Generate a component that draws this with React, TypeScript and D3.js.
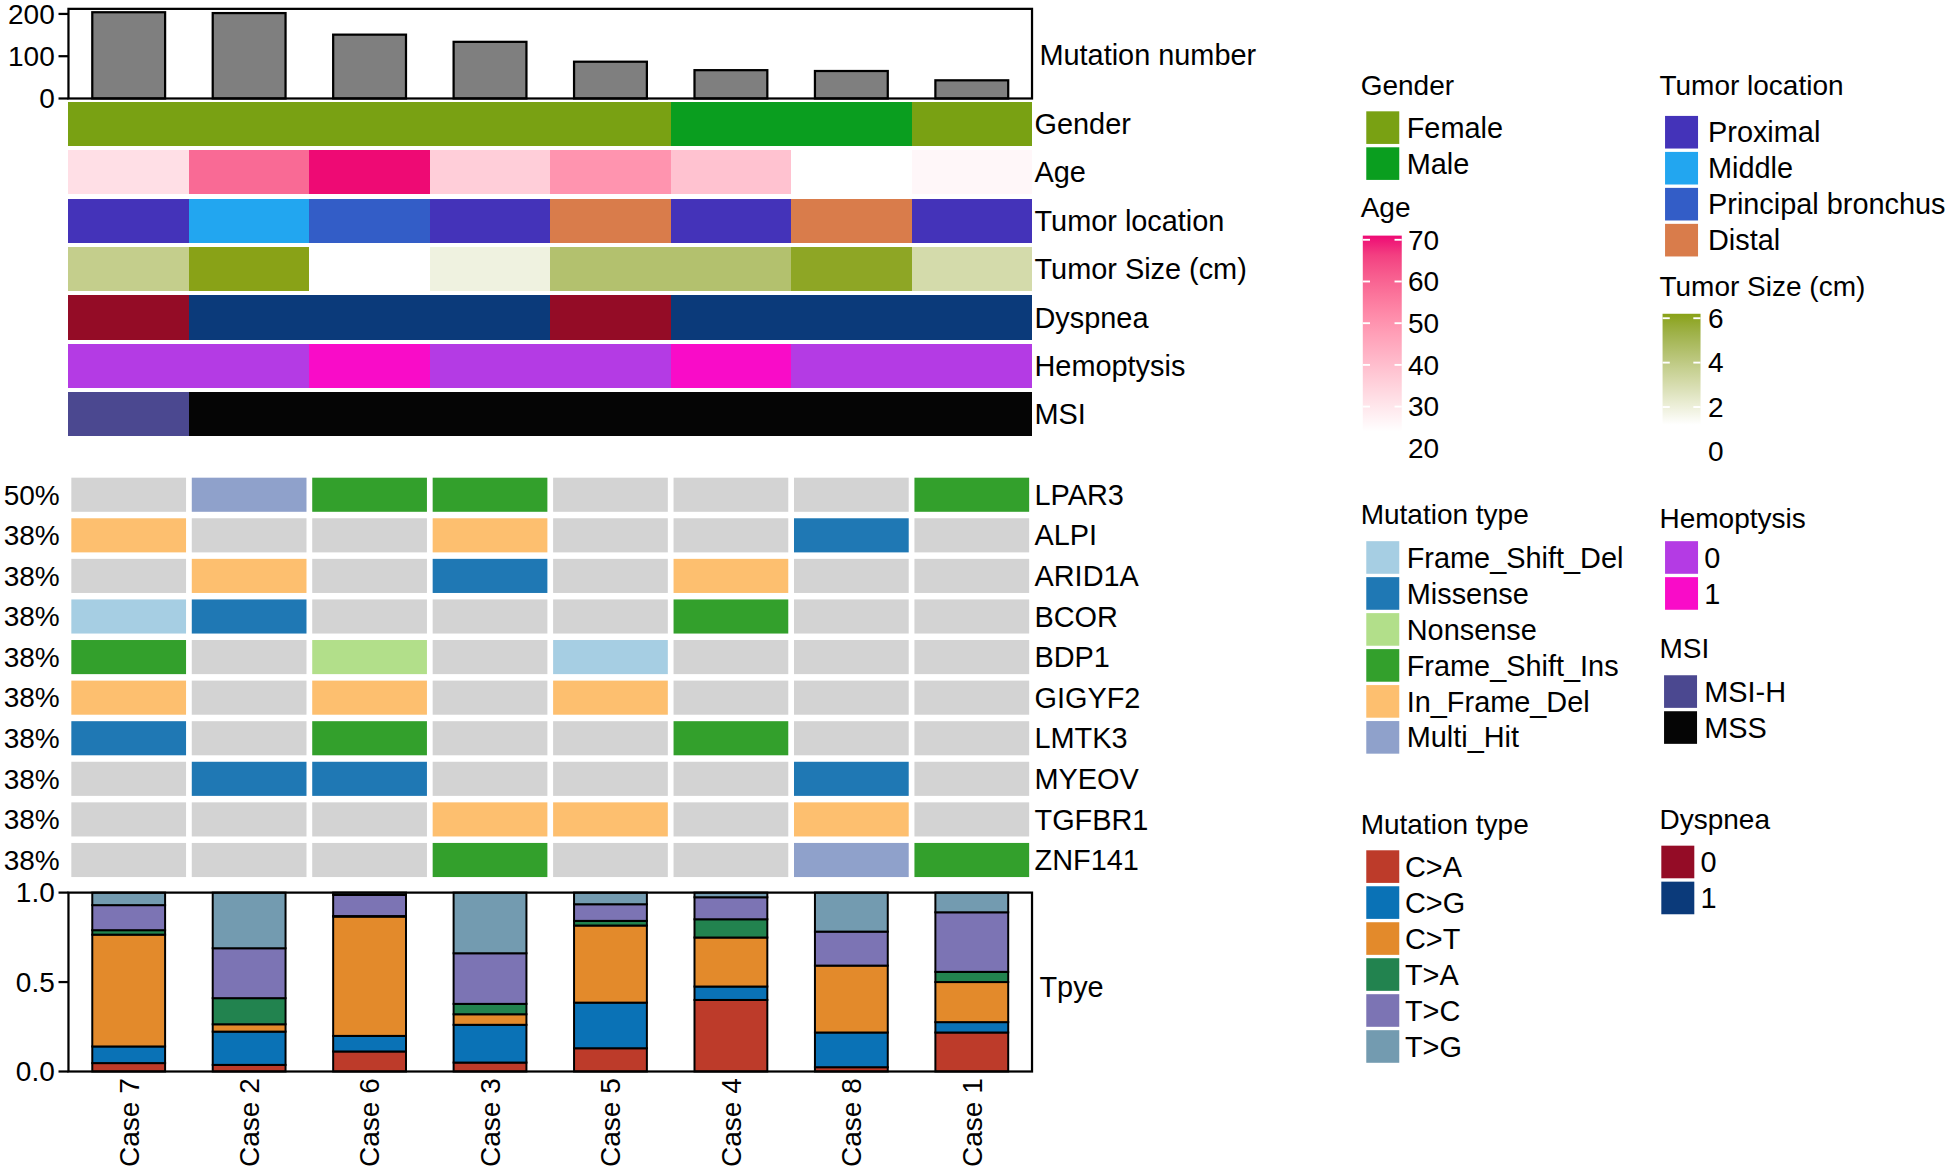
import * as d3 from "d3";

const cases = ["Case 7", "Case 2", "Case 6", "Case 3", "Case 5", "Case 4", "Case 8", "Case 1"];
const mutationCounts = [204, 202, 151, 134, 87, 67, 65, 43];
const countTicks = [0, 100, 200];

const genders = ["Female", "Female", "Female", "Female", "Female", "Male", "Male", "Female"];
const ages = [32, 59, 71, 36, 50, 39, 24, 26];
const tumorLocations = ["Proximal", "Middle", "Principal bronchus", "Proximal", "Distal", "Proximal", "Distal", "Proximal"];
const tumorSizes = [3.8, 6.2, 1.2, 1.9, 4.5, 4.5, 6.0, 3.1];
const dyspnea = ["0", "1", "1", "1", "0", "1", "1", "1"];
const hemoptysis = ["0", "0", "1", "0", "0", "1", "0", "0"];
const msi = ["MSI-H", "MSS", "MSS", "MSS", "MSS", "MSS", "MSS", "MSS"];

const genes = ["LPAR3", "ALPI", "ARID1A", "BCOR", "BDP1", "GIGYF2", "LMTK3", "MYEOV", "TGFBR1", "ZNF141"];
const oncoMatrix = [
  ["", "Multi_Hit", "Frame_Shift_Ins", "Frame_Shift_Ins", "", "", "", "Frame_Shift_Ins"],
  ["In_Frame_Del", "", "", "In_Frame_Del", "", "", "Missense", ""],
  ["", "In_Frame_Del", "", "Missense", "", "In_Frame_Del", "", ""],
  ["Frame_Shift_Del", "Missense", "", "", "", "Frame_Shift_Ins", "", ""],
  ["Frame_Shift_Ins", "", "Nonsense", "", "Frame_Shift_Del", "", "", ""],
  ["In_Frame_Del", "", "In_Frame_Del", "", "In_Frame_Del", "", "", ""],
  ["Missense", "", "Frame_Shift_Ins", "", "", "Frame_Shift_Ins", "", ""],
  ["", "Missense", "Missense", "", "", "", "Missense", ""],
  ["", "", "", "In_Frame_Del", "In_Frame_Del", "", "In_Frame_Del", ""],
  ["", "", "", "Frame_Shift_Ins", "", "", "Multi_Hit", "Frame_Shift_Ins"],
];

const snvTypes = ["C>A", "C>G", "C>T", "T>A", "T>C", "T>G"];
const snvFractions = [
  [0.047, 0.093, 0.625, 0.025, 0.14, 0.07],
  [0.037, 0.186, 0.041, 0.146, 0.279, 0.311],
  [0.112, 0.087, 0.667, 0.003, 0.118, 0.013],
  [0.05, 0.211, 0.059, 0.058, 0.283, 0.339],
  [0.13, 0.255, 0.431, 0.026, 0.093, 0.065],
  [0.4, 0.075, 0.274, 0.102, 0.123, 0.026],
  [0.024, 0.194, 0.374, 0, 0.19, 0.218],
  [0.218, 0.058, 0.224, 0.057, 0.333, 0.11],
];
const fractionTicks = [0, 0.5, 1];

const ageTicks = [20, 30, 40, 50, 60, 70];
const sizeTicks = [0, 2, 4, 6];

const genderColors: Record<string, string> = { Female: "#79a113", Male: "#0a9e1f" };
const locationColors: Record<string, string> = {
  Proximal: "#4433b9",
  Middle: "#22a6f0",
  "Principal bronchus": "#335dc7",
  Distal: "#d97c4b",
};
const dyspneaColors: Record<string, string> = { "0": "#940c26", "1": "#0b3a7a" };
const hemoptysisColors: Record<string, string> = { "0": "#b43be4", "1": "#f90cc8" };
const msiColors: Record<string, string> = { "MSI-H": "#4b4890", MSS: "#050505" };
const mutColors: Record<string, string> = {
  Frame_Shift_Del: "#a6cee3",
  Missense: "#1f78b4",
  Nonsense: "#b2df8a",
  Frame_Shift_Ins: "#33a02c",
  In_Frame_Del: "#fdbf6f",
  Multi_Hit: "#8fa1cb",
};
const snvColors: Record<string, string> = {
  "C>A": "#bd3b2a",
  "C>G": "#0a72b6",
  "C>T": "#e38a2b",
  "T>A": "#22834f",
  "T>C": "#7c74b4",
  "T>G": "#739bb0",
};

const FONT = "'Liberation Sans', Arial, Helvetica, sans-serif";
const FS = 22.5;
const FS_ROW = 23.2;

export default function App() {
  const left = 55;
  const right = 829;
  const x = d3.scaleBand<string>().domain(cases).range([left, right]);
  const bw = x.bandwidth();
  const barW = 58.5;

  // top bar chart
  const yCount = d3.scaleLinear().domain([0, 212]).range([79, 7]);

  // annotation rows
  const annTop = 81.6;
  const annPitch = 38.9;
  const annH = 35.4;

  const ageColor = d3.scaleLinear<string>().domain([24, 71]).range(["#ffffff", "#ee0a74"]).interpolate(d3.interpolateLab);
  const sizeColor = d3.scaleLinear<string>().domain([1.2, 6.2]).range(["#ffffff", "#89a217"]).interpolate(d3.interpolateLab);

  const annotations = [
    { name: "Gender", colors: genders.map((g) => genderColors[g]) },
    { name: "Age", colors: ages.map((a) => ageColor(a)) },
    { name: "Tumor location", colors: tumorLocations.map((l) => locationColors[l]) },
    { name: "Tumor Size (cm)", colors: tumorSizes.map((s) => sizeColor(s)) },
    { name: "Dyspnea", colors: dyspnea.map((d) => dyspneaColors[d]) },
    { name: "Hemoptysis", colors: hemoptysis.map((d) => hemoptysisColors[d]) },
    { name: "MSI", colors: msi.map((d) => msiColors[d]) },
  ];

  // oncoprint
  const onTop = 383.6;
  const onPitch = 32.6;
  const onH = 27.4;
  const inset = 2.3;

  // stacked panel
  const yFrac = d3.scaleLinear().domain([0, 1]).range([860.6, 716.9]);
  const table = cases.map((c, i) => {
    const row: Record<string, number | string> = { case: c };
    snvTypes.forEach((t, j) => (row[t] = snvFractions[i][j]));
    return row;
  });
  const series = d3.stack<Record<string, number | string>>().keys(snvTypes)(table as any);

  // legends
  const catLegends = [
    { title: "Gender", tx: 1093, ty: 76.4, sx: 1097.5, top: 89.3, lx: 1130, items: Object.keys(genderColors), colors: genderColors },
    { title: "Tumor location", tx: 1333, ty: 76.4, sx: 1337.5, top: 93, lx: 1372, items: Object.keys(locationColors), colors: locationColors },
    { title: "Mutation type", tx: 1093, ty: 420.8, sx: 1097.5, top: 434.6, lx: 1130, items: Object.keys(mutColors), colors: mutColors },
    { title: "Hemoptysis", tx: 1333, ty: 423.9, sx: 1337.5, top: 434.6, lx: 1369, items: Object.keys(hemoptysisColors), colors: hemoptysisColors },
    { title: "MSI", tx: 1333, ty: 528.5, sx: 1336.7, top: 542.3, lx: 1369, items: Object.keys(msiColors), colors: msiColors },
    { title: "Mutation type", tx: 1093, ty: 670, sx: 1097.5, top: 682.9, lx: 1128.6, items: snvTypes, colors: snvColors },
    { title: "Dyspnea", tx: 1333, ty: 666, sx: 1334.5, top: 679.2, lx: 1366, items: Object.keys(dyspneaColors), colors: dyspneaColors },
  ];
  const swW = 26.5;
  const swPitch = 28.9;
  const swH = 26.2;

  const ageY = d3.scaleLinear().domain([20, 70]).range([360, 192.5]);
  const sizeY = d3.scaleLinear().domain([0, 6]).range([362.5, 255.5]);
  const ageExtent = d3.extent(ages) as [number, number];
  const sizeExtent = d3.extent(tumorSizes) as [number, number];

  const gradStops = (scale: d3.ScaleLinear<string, string>, ext: [number, number]) =>
    d3.range(0, 1.0001, 0.1).map((t) => ({ t, c: scale(ext[1] - t * (ext[1] - ext[0])) }));

  return (
    <>
      <style>{`body{margin:0}`}</style>
      <svg width={1952} height={1168} viewBox="0 0 1568 938" style={{ display: "block" }} fontFamily={FONT} fontSize={FS}>
        <defs>
          <linearGradient id="ageGrad" x1="0" y1="0" x2="0" y2="1">
            {gradStops(ageColor, ageExtent).map((s) => (
              <stop key={s.t} offset={s.t} stopColor={s.c} />
            ))}
          </linearGradient>
          <linearGradient id="sizeGrad" x1="0" y1="0" x2="0" y2="1">
            {gradStops(sizeColor, sizeExtent).map((s) => (
              <stop key={s.t} offset={s.t} stopColor={s.c} />
            ))}
          </linearGradient>
        </defs>

        {/* mutation number bars */}
        {cases.map((c, i) => (
          <rect
            key={c}
            x={(x(c) || 0) + bw / 2 - barW / 2}
            y={yCount(mutationCounts[i])}
            width={barW}
            height={yCount(0) - yCount(mutationCounts[i])}
            fill="#7f7f7f"
            stroke="#000"
            strokeWidth={1.8}
          />
        ))}
        <rect x={left} y={yCount(212)} width={right - left} height={yCount(0) - yCount(212)} fill="none" stroke="#000" strokeWidth={1.8} />
        {countTicks.map((t) => (
          <g key={t}>
            <line x1={47} x2={left} y1={yCount(t)} y2={yCount(t)} stroke="#000" strokeWidth={1.8} />
            <text x={44} y={yCount(t)} dy="0.35em" textAnchor="end">
              {t}
            </text>
          </g>
        ))}
        <text x={835} y={44} dy="0.35em" fontSize={FS_ROW}>
          Mutation number
        </text>

        {/* annotation rows */}
        {annotations.map((a, r) => {
          const top = annTop + r * annPitch;
          return (
            <g key={a.name}>
              {cases.map((c, i) => (
                <rect
                  key={c}
                  x={x(c)}
                  y={top}
                  width={i < cases.length - 1 ? bw + 1.5 : bw}
                  height={annH}
                  fill={a.colors[i]}
                  shapeRendering="crispEdges"
                />
              ))}
              <text x={831} y={top + annH / 2} dy="0.35em" fontSize={FS_ROW}>
                {a.name}
              </text>
            </g>
          );
        })}

        {/* oncoprint */}
        {genes.map((g, r) => {
          const top = onTop + r * onPitch;
          const hits = oncoMatrix[r].filter((m) => m !== "").length;
          return (
            <g key={g}>
              {cases.map((c, i) => {
                const m = oncoMatrix[r][i];
                return (
                  <rect
                    key={c}
                    x={(x(c) || 0) + inset}
                    y={top}
                    width={bw - inset * 2}
                    height={onH}
                    fill={m ? mutColors[m] : "#d3d3d3"}
                  />
                );
              })}
              <text x={48} y={top + onH / 2} dy="0.35em" textAnchor="end">
                {Math.round((hits / cases.length) * 100)}%
              </text>
              <text x={831} y={top + onH / 2} dy="0.35em" fontSize={FS_ROW}>
                {g}
              </text>
            </g>
          );
        })}

        {/* stacked SNV fractions */}
        {series.map((s) => (
          <g key={s.key}>
            {s.map((d, i) => (
              <rect
                key={cases[i]}
                x={(x(cases[i]) || 0) + bw / 2 - barW / 2}
                y={yFrac(d[1])}
                width={barW}
                height={yFrac(d[0]) - yFrac(d[1])}
                fill={snvColors[s.key]}
                stroke="#000"
                strokeWidth={1.6}
              />
            ))}
          </g>
        ))}
        <rect x={left} y={yFrac(1)} width={right - left} height={yFrac(0) - yFrac(1)} fill="none" stroke="#000" strokeWidth={1.8} />
        {fractionTicks.map((t) => (
          <g key={t}>
            <line x1={47} x2={left} y1={yFrac(t)} y2={yFrac(t)} stroke="#000" strokeWidth={1.8} />
            <text x={44} y={yFrac(t)} dy="0.35em" textAnchor="end">
              {d3.format(".1f")(t)}
            </text>
          </g>
        ))}
        <text x={835} y={yFrac(0.5) + 4} dy="0.35em" fontSize={FS_ROW}>
          Tpye
        </text>
        {cases.map((c) => {
          const cx = (x(c) || 0) + bw / 2;
          return (
            <text key={c} transform={`translate(${cx},866) rotate(-90)`} dy="0.35em" textAnchor="end">
              {c}
            </text>
          );
        })}

        {/* categorical legends */}
        {catLegends.map((lg) => (
          <g key={lg.title + lg.ty}>
            <text x={lg.tx} y={lg.ty}>
              {lg.title}
            </text>
            {lg.items.map((it, k) => (
              <g key={it}>
                <rect x={lg.sx} y={lg.top + k * swPitch} width={swW} height={swH} fill={lg.colors[it]} />
                <text x={lg.lx} y={lg.top + k * swPitch + swH / 2} dy="0.35em" fontSize={FS_ROW}>
                  {it}
                </text>
              </g>
            ))}
          </g>
        ))}

        {/* Age colour bar */}
        <text x={1093} y={174.5}>
          Age
        </text>
        <rect x={1094.7} y={ageY(ageExtent[1])} width={31.3} height={ageY(ageExtent[0]) - ageY(ageExtent[1])} fill="url(#ageGrad)" />
        {ageTicks.map((t) => (
          <g key={t}>
            {t >= ageExtent[0] && t <= ageExtent[1] && (
              <>
                <line x1={1094.7} x2={1100.5} y1={ageY(t)} y2={ageY(t)} stroke="#fff" strokeWidth={1.5} />
                <line x1={1120.2} x2={1126} y1={ageY(t)} y2={ageY(t)} stroke="#fff" strokeWidth={1.5} />
              </>
            )}
            <text x={1131} y={ageY(t)} dy="0.35em">
              {t}
            </text>
          </g>
        ))}

        {/* Tumor size colour bar */}
        <text x={1333} y={237.7}>
          Tumor Size (cm)
        </text>
        <rect x={1335.5} y={sizeY(sizeExtent[1])} width={30.5} height={sizeY(sizeExtent[0]) - sizeY(sizeExtent[1])} fill="url(#sizeGrad)" />
        {sizeTicks.map((t) => (
          <g key={t}>
            {t >= sizeExtent[0] && t <= sizeExtent[1] && (
              <>
                <line x1={1335.5} x2={1341.3} y1={sizeY(t)} y2={sizeY(t)} stroke="#fff" strokeWidth={1.5} />
                <line x1={1360.2} x2={1366} y1={sizeY(t)} y2={sizeY(t)} stroke="#fff" strokeWidth={1.5} />
              </>
            )}
            <text x={1372} y={sizeY(t)} dy="0.35em">
              {t}
            </text>
          </g>
        ))}
      </svg>
    </>
  );
}
